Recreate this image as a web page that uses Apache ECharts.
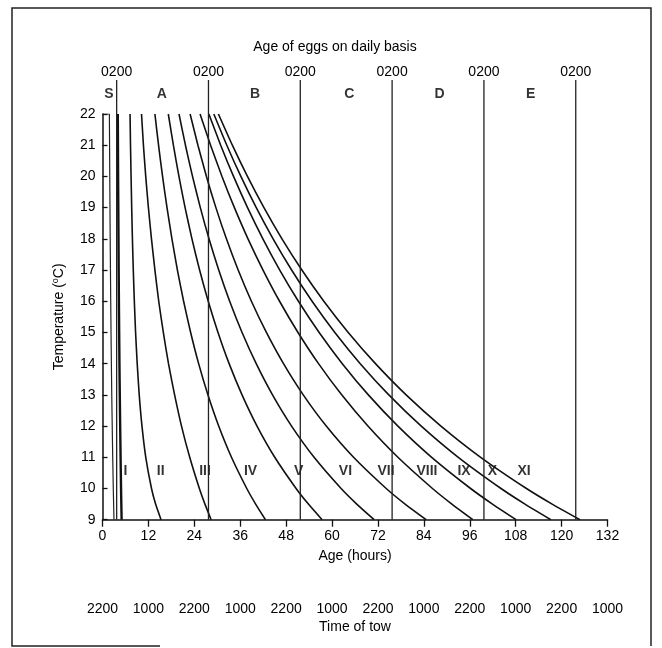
<!DOCTYPE html>
<html><head><meta charset="utf-8">
<script src="https://cdn.jsdelivr.net/npm/echarts@6/dist/echarts.min.js"></script>
<style>html,body{margin:0;padding:0;background:#fff}#c{width:662px;height:648px}</style>
</head><body><div id="c"></div>
<script>
// temperatures (deg C) at which each development curve was read
const curveTemps = [22, 21, 20, 19, 18, 17, 16, 15, 14, 13, 12, 11, 10, 9.5, 9];
// age (hours) of each stage boundary at those temperatures
const curveS    = [1.8, 1.85, 1.9, 1.95, 2.01, 2.08, 2.15, 2.23, 2.32, 2.42, 2.54, 2.67, 2.82, 2.91, 3.0];
const curveI    = [4.0, 4.04, 4.08, 4.13, 4.18, 4.23, 4.29, 4.36, 4.43, 4.52, 4.62, 4.73, 4.85, 4.92, 5.0];
const curveII   = [7.2, 7.32, 7.47, 7.63, 7.82, 8.05, 8.32, 8.65, 9.07, 9.60, 10.32, 11.31, 12.81, 13.88, 15.3];
const curveIII  = [10.2, 10.70, 11.30, 12.00, 12.80, 13.70, 14.70, 15.90, 17.25, 18.85, 20.65, 22.80, 25.32, 26.78, 28.4];
const curveIV   = [13.7, 14.65, 15.70, 16.86, 18.15, 19.58, 21.20, 23.04, 25.13, 27.55, 30.37, 33.71, 37.71, 40.03, 42.6];
const curveV    = [17.2, 18.53, 19.98, 21.59, 23.38, 25.38, 27.64, 30.19, 33.10, 36.47, 40.39, 45.03, 50.60, 53.82, 57.4];
const curveVI   = [20.0, 21.68, 23.53, 25.57, 27.84, 30.38, 33.24, 36.48, 40.18, 44.44, 49.42, 55.31, 62.37, 66.46, 71.0];
const curveVII  = [22.9, 24.94, 27.17, 29.64, 32.39, 35.46, 38.92, 42.84, 47.31, 52.47, 58.49, 65.62, 74.16, 79.10, 84.6];
const curveVIII = [25.5, 28.25, 31.23, 34.48, 38.03, 41.96, 46.28, 51.10, 56.47, 62.52, 69.38, 77.21, 86.25, 91.32, 96.8];
const curveIX   = [27.8, 30.89, 34.25, 37.91, 41.92, 46.33, 51.21, 56.63, 62.68, 69.49, 77.22, 86.04, 96.22, 101.93, 108.1];
const curveX    = [29.1, 32.49, 36.17, 40.19, 44.59, 49.43, 54.78, 60.73, 67.37, 74.84, 83.32, 93.00, 104.17, 110.43, 117.2];
const curveXI   = [30.3, 33.94, 37.89, 42.20, 46.91, 52.11, 57.85, 64.23, 71.35, 79.36, 88.46, 98.84, 110.82, 117.53, 124.8];

const stageNames = ['I','II','III','IV','V','VI','VII','VIII','IX','X','XI'];
const stageLabelHours = [6.0, 15.2, 26.8, 38.7, 51.3, 63.5, 74.1, 84.8, 94.5, 101.9, 110.2];
const stageLabelTemp = 10.55;

const dayLineHours = [3.7, 27.7, 51.7, 75.7, 99.7, 123.7];
const dayLineLabels = ['0200','0200','0200','0200','0200','0200'];
const dayLineTop = 23.09;

const periodNames = ['S','A','B','C','D','E'];
const periodHours = [1.7, 15.5, 39.9, 64.5, 88.1, 111.9];
const periodTemp = 22.63;

const towLabels = ['2200','1000','2200','1000','2200','1000','2200','1000','2200','1000','2200','1000'];

const FONT = 'Liberation Sans';
const allCurves = [curveI, curveII, curveIII, curveIV, curveV, curveVI, curveVII, curveVIII, curveIX, curveX, curveXI];

const series = [];
allCurves.forEach((c, k) => {
  series.push({
    type: 'line', smooth: 0.2, showSymbol: false, silent: true,
    lineStyle: { color: '#111', width: k === 0 ? 2.4 : 1.6 },
    data: c.map((h, i) => [h, curveTemps[i]])
  });
});
series.push({
  type: 'line', smooth: 0.2, showSymbol: false, silent: true,
  lineStyle: { color: '#222', width: 1.2 },
  data: curveS.map((h, i) => [h, curveTemps[i]])
});
series.push({
  type: 'line', showSymbol: false, silent: true,
  lineStyle: { color: '#222', width: 1.2 },
  data: [[0, curveTemps[0]], [curveS[0], curveTemps[0]]]
});
dayLineHours.forEach((h, i) => {
  series.push({
    type: 'line', clip: false, silent: true, symbol: 'circle', symbolSize: 0, showSymbol: true,
    lineStyle: { color: '#222', width: 1.3 },
    data: [[h, 9], { value: [h, dayLineTop], label: { show: true, position: 'top', distance: 1, formatter: dayLineLabels[i], fontFamily: FONT, fontSize: 14, color: '#000' } }]
  });
});
series.push({
  type: 'scatter', clip: false, silent: true, symbolSize: 0,
  label: { show: true, position: 'inside', formatter: p => periodNames[p.dataIndex], fontFamily: FONT, fontSize: 14, fontWeight: 'bold', color: '#000' },
  data: periodHours.map(h => [h, periodTemp])
});
series.push({
  type: 'scatter', silent: true, symbolSize: 0,
  label: { show: true, position: 'inside', formatter: p => stageNames[p.dataIndex], fontFamily: FONT, fontSize: 14, fontWeight: 'bold', color: '#000' },
  data: stageLabelHours.map(h => [h, stageLabelTemp])
});

const chart = echarts.init(document.getElementById('c'));
chart.setOption({
  animation: false,
  backgroundColor: '#fff',
  grid: { left: 102.5, right: 54.5, top: 114, bottom: 128.3 },
  xAxis: [{
    type: 'value', min: 0, max: 132, interval: 12, position: 'bottom',
    axisLine: { lineStyle: { color: '#111', width: 1.5 } },
    axisTick: { show: true, length: 7, lineStyle: { color: '#111', width: 1.3 } },
    splitLine: { show: false },
    axisLabel: { fontFamily: FONT, fontSize: 14, color: '#000', margin: 9 },
    name: 'Age (hours)', nameLocation: 'middle', nameGap: 29,
    nameTextStyle: { fontFamily: FONT, fontSize: 14, color: '#000' }
  }, {
    type: 'value', min: 0, max: 132, interval: 12, position: 'bottom', offset: 74,
    axisLine: { show: false }, axisTick: { show: false }, splitLine: { show: false },
    axisLabel: { fontFamily: FONT, fontSize: 14, color: '#000', margin: 8,
      formatter: v => towLabels[Math.round(v / 12)] || '' },
    name: 'Time of tow', nameLocation: 'middle', nameGap: 25,
    nameTextStyle: { fontFamily: FONT, fontSize: 14, color: '#000' }
  }],
  yAxis: {
    type: 'value', min: 9, max: 22, interval: 1,
    axisLine: { show: true, lineStyle: { color: '#111', width: 1.5 } },
    axisTick: { show: true, inside: true, length: 5, lineStyle: { color: '#111', width: 1.3 } },
    splitLine: { show: false },
    axisLabel: { fontFamily: FONT, fontSize: 14, color: '#000', margin: 7 },
    name: 'Temperature ({s|o}C)', nameLocation: 'middle', nameGap: 36, nameRotate: 90,
    nameTextStyle: { fontFamily: FONT, fontSize: 14, color: '#000',
      rich: { s: { fontFamily: FONT, fontSize: 9, color: '#000', verticalAlign: 'top', padding: [0, 0, 6, 0] } } }
  },
  graphic: [
    { type: 'text', x: 335, y: 40, style: { text: 'Age of eggs on daily basis', fontFamily: FONT, fontSize: 14, fill: '#000', textAlign: 'center' } },
    { type: 'polyline', shape: { points: [[160, 646], [12, 646], [12, 8], [651, 8], [651, 646]] }, style: { stroke: '#222', lineWidth: 1.5, fill: null } }
  ],
  series: series
});
</script></body></html>
